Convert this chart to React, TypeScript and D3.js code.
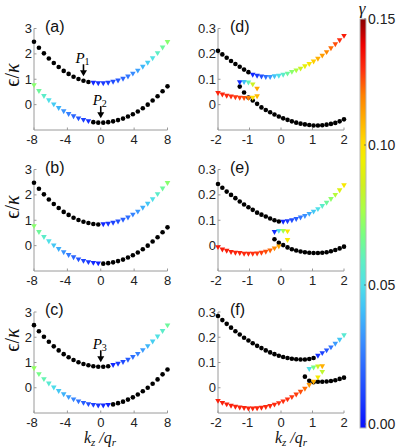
import React from 'react';
import * as d3 from 'd3';

// k_z grids (left panels: 28 points, right panels: 30 points)
const kzLeft = [-8, -7.41, -6.81, -6.22, -5.63, -5.04, -4.44, -3.85, -3.26, -2.67, -2.07, -1.48, -0.89, -0.3,
  0.3, 0.89, 1.48, 2.07, 2.67, 3.26, 3.85, 4.44, 5.04, 5.63, 6.22, 6.81, 7.41, 8];
const kzRight = [-2, -1.862, -1.724, -1.586, -1.448, -1.31, -1.172, -1.034, -0.897, -0.759, -0.621, -0.483, -0.345,
  -0.207, -0.069, 0.069, 0.207, 0.345, 0.483, 0.621, 0.759, 0.897, 1.034, 1.172, 1.31, 1.448, 1.586, 1.724, 1.862, 2];

// left column bands (same dispersion in a, b, c)
const leftUpper = [2.48, 2.24, 2.02, 1.82, 1.64, 1.48, 1.33, 1.21, 1.1, 1.01, 0.94, 0.89, 0.85, 0.83,
  0.83, 0.85, 0.89, 0.94, 1.01, 1.1, 1.21, 1.33, 1.48, 1.64, 1.82, 2.02, 2.24, 2.46];
const leftLower = [0.76, 0.53, 0.33, 0.16, 0, -0.14, -0.27, -0.38, -0.47, -0.55, -0.61, -0.66, -0.69, -0.71,
  -0.71, -0.69, -0.66, -0.61, -0.55, -0.47, -0.38, -0.27, -0.14, 0, 0.16, 0.33, 0.53, 0.72];

// gamma per point, 0 = real (black dot)
const aUpperG = [0, 0, 0, 0, 0, 0, 0, 0, 0, 0, 0, 0,
  0.004, 0.006, 0.008, 0.01, 0.013, 0.016, 0.02, 0.024, 0.029, 0.034, 0.039, 0.045, 0.051, 0.058, 0.064, 0.071];
const aLowerG = [0.071, 0.064, 0.057, 0.05, 0.044, 0.038, 0.031, 0.026, 0.02, 0.015, 0.01, 0.006,
  0, 0, 0, 0, 0, 0, 0, 0, 0, 0, 0, 0, 0, 0, 0, 0];
const bUpperG = [0, 0, 0, 0, 0, 0, 0, 0, 0, 0, 0, 0, 0, 0,
  0.004, 0.007, 0.01, 0.014, 0.018, 0.022, 0.027, 0.032, 0.037, 0.043, 0.05, 0.057, 0.064, 0.071];
const bLowerG = [0.071, 0.064, 0.057, 0.05, 0.043, 0.037, 0.031, 0.025, 0.02, 0.015, 0.011, 0.008, 0.005, 0.003,
  0, 0, 0, 0, 0, 0, 0, 0, 0, 0, 0, 0, 0, 0];
const cUpperG = [0, 0, 0, 0, 0, 0, 0, 0, 0, 0, 0, 0, 0, 0, 0, 0,
  0.004, 0.008, 0.012, 0.017, 0.022, 0.027, 0.033, 0.039, 0.045, 0.051, 0.057, 0.064];
const cLowerG = [0.073, 0.067, 0.061, 0.055, 0.049, 0.043, 0.038, 0.033, 0.028, 0.023, 0.018, 0.014, 0.01, 0.007, 0.005, 0.003,
  0, 0, 0, 0, 0, 0, 0, 0, 0, 0, 0, 0];

// (d)
const dUpper = [0.212, 0.198, 0.185, 0.172, 0.16, 0.149, 0.138, 0.128,
  0.117, 0.113, 0.11, 0.108, 0.108, 0.111, 0.113, 0.117, 0.121, 0.128, 0.134, 0.141, 0.15, 0.159, 0.169, 0.18,
  0.192, 0.206, 0.221, 0.237, 0.253, 0.27];
const dUpperG = [0, 0, 0, 0, 0, 0, 0, 0,
  0.004, 0.008, 0.014, 0.022, 0.032, 0.042, 0.05, 0.057, 0.064, 0.071, 0.078, 0.085, 0.092, 0.098, 0.104, 0.11,
  0.114, 0.118, 0.122, 0.126, 0.13, 0.134];
const dLower = [0.045, 0.039, 0.034, 0.031, 0.028, 0.026, 0.025, 0.025, 0.026,
  0.003, -0.011, -0.021, -0.03, -0.039, -0.047, -0.054, -0.06, -0.066, -0.071, -0.075, -0.078, -0.08, -0.082,
  -0.082, -0.081, -0.079, -0.076, -0.072, -0.066, -0.058];
const dLowerG = [0.132, 0.132, 0.131, 0.13, 0.129, 0.128, 0.126, 0.12, 0.1,
  0, 0, 0, 0, 0, 0, 0, 0, 0, 0, 0, 0, 0, 0, 0, 0, 0, 0, 0, 0, 0];
const dLoopDots = [[-1.31, 0.071], [-1.172, 0.048], [-1.034, 0.028], [-0.897, 0.016]];
const dLoopTris = [[-1.31, 0.087, 0.006], [-1.172, 0.088, 0.04], [-1.034, 0.086, 0.06], [-0.897, 0.079, 0.085],
  [-0.759, 0.062, 0.112], [-0.759, 0.032, 0.108]];

// (e)
const eUpper = [0.243, 0.228, 0.213, 0.2, 0.187, 0.174, 0.162, 0.151, 0.141, 0.13, 0.122, 0.115, 0.107, 0.1, 0.095,
  0.093, 0.095, 0.099, 0.104, 0.11, 0.116, 0.124, 0.133, 0.143, 0.155, 0.168, 0.183, 0.199, 0.217, 0.237];
const eUpperG = [0, 0, 0, 0, 0, 0, 0, 0, 0, 0, 0, 0, 0, 0, 0,
  0.004, 0.008, 0.013, 0.018, 0.024, 0.03, 0.036, 0.043, 0.05, 0.057, 0.064, 0.072, 0.08, 0.089, 0.097];
const eLower = [-0.007, -0.016, -0.021, -0.026, -0.029, -0.03, -0.033, -0.033, -0.033, -0.032, -0.029, -0.025,
  -0.02, -0.012, -0.004,
  0.002, -0.007, -0.014, -0.019, -0.023, -0.026, -0.028, -0.029, -0.029, -0.028, -0.026, -0.022, -0.017, -0.011, -0.004];
const eLowerG = [0.134, 0.134, 0.133, 0.133, 0.132, 0.132, 0.131, 0.131, 0.13, 0.129, 0.128, 0.126, 0.123, 0.118, 0.112,
  0, 0, 0, 0, 0, 0, 0, 0, 0, 0, 0, 0, 0, 0, 0];
const eLoopDots = [[-0.207, 0.025], [-0.069, 0.011]];
const eLoopTris = [[-0.207, 0.053, 0.006], [-0.069, 0.057, 0.05], [0.069, 0.057, 0.075], [0.207, 0.055, 0.098],
  [0.207, 0.021, 0.097]];

// (f)
const fUpper = [0.284, 0.268, 0.253, 0.238, 0.224, 0.211, 0.198, 0.187, 0.176, 0.166, 0.157, 0.148, 0.14, 0.133,
  0.127, 0.122, 0.118, 0.115, 0.113, 0.112, 0.112, 0.114, 0.118,
  0.126, 0.136, 0.147, 0.159, 0.173, 0.189, 0.207];
const fUpperG = [0, 0, 0, 0, 0, 0, 0, 0, 0, 0, 0, 0, 0, 0, 0, 0, 0, 0, 0, 0, 0, 0, 0,
  0.006, 0.01, 0.016, 0.024, 0.033, 0.043, 0.055];
const fLower = [-0.053, -0.061, -0.067, -0.072, -0.076, -0.079, -0.081, -0.083, -0.083, -0.082, -0.08, -0.077,
  -0.073, -0.068, -0.062, -0.055, -0.047, -0.038, -0.028, -0.017, -0.005, 0.01, 0.023,
  0.024, 0.024, 0.025, 0.027, 0.03, 0.035, 0.04];
const fLowerG = [0.133, 0.133, 0.133, 0.133, 0.132, 0.132, 0.132, 0.132, 0.132, 0.132, 0.132, 0.131, 0.131, 0.131,
  0.13, 0.13, 0.13, 0.129, 0.128, 0.126, 0.122, 0.115, 0.11,
  0, 0, 0, 0, 0, 0, 0];
const fLoopDots = [[0.759, 0.044], [0.897, 0.028], [1.034, 0.022]];
const fLoopTris = [[0.897, 0.073, 0.05], [1.034, 0.079, 0.068], [1.172, 0.083, 0.085], [1.31, 0.084, 0.11],
  [1.31, 0.062, 0.082], [1.172, 0.04, 0.097]];

// ticks
const leftXTicks = [-8, -4, 0, 4, 8];
const leftYTicks = [0, 1, 2, 3];
const rightXTicks = [-2, -1, 0, 1, 2];
const rightYTicks = [0, 0.1, 0.2, 0.3];
const cbTicks = [0, 0.05, 0.1, 0.15];
const cbTickLabels = ['0.00', '0.05', '0.10', '0.15'];

// markers with arrows: [panel, kz, eps, subscript]
const arrowMarks: [string, number, number, string][] = [['a', -2.07, 0.94, '1'], ['a', 0, -0.71, '2'], ['c', 0, 0.83, '3']];

// colormap (jet-like, starting at blue)
const cmapDomain = [0, 0.0086, 0.0194, 0.0302, 0.041, 0.05, 0.059, 0.068, 0.0768, 0.0857, 0.0946, 0.1, 0.1099,
  0.1198, 0.1298, 0.1397, 0.1476, 0.15];
const cmapRange = ['#0a14ff', '#1a3cff', '#2a64ff', '#3a90ff', '#40c0f8', '#50e0e8', '#60f0c0', '#78ff80',
  '#a8ff48', '#d0f020', '#f0f000', '#ffe000', '#ffb000', '#ff8000', '#ff3010', '#f00000', '#a00000', '#8a0000'];
const color = d3.scaleLinear<string>().domain(cmapDomain).range(cmapRange).interpolate(d3.interpolateRgb).clamp(true);

const SANS = "'Liberation Sans', Arial, sans-serif";
const SERIF = "'Liberation Serif', 'DejaVu Serif', 'Times New Roman', serif";
const AXIS = '#9a9a9a';

const rows = [{ top: 28.5, bottom: 130 }, { top: 169.5, bottom: 271 }, { top: 312, bottom: 413 }];
const cols = [{ x0: 34, x1: 167.5 }, { x0: 218, x1: 344 }];
const yLabelY = [75, 207, 340];

type Panel = {
  id: string; col: number; row: number; kz: number[];
  upper: number[]; upperG: number[]; lower: number[]; lowerG: number[];
  loopDots: number[][]; loopTris: number[][];
};

const panels: Panel[] = [
  { id: 'a', col: 0, row: 0, kz: kzLeft, upper: leftUpper, upperG: aUpperG, lower: leftLower, lowerG: aLowerG, loopDots: [], loopTris: [] },
  { id: 'b', col: 0, row: 1, kz: kzLeft, upper: leftUpper, upperG: bUpperG, lower: leftLower, lowerG: bLowerG, loopDots: [], loopTris: [] },
  { id: 'c', col: 0, row: 2, kz: kzLeft, upper: leftUpper, upperG: cUpperG, lower: leftLower, lowerG: cLowerG, loopDots: [], loopTris: [] },
  { id: 'd', col: 1, row: 0, kz: kzRight, upper: dUpper, upperG: dUpperG, lower: dLower, lowerG: dLowerG, loopDots: dLoopDots, loopTris: dLoopTris },
  { id: 'e', col: 1, row: 1, kz: kzRight, upper: eUpper, upperG: eUpperG, lower: eLower, lowerG: eLowerG, loopDots: eLoopDots, loopTris: eLoopTris },
  { id: 'f', col: 1, row: 2, kz: kzRight, upper: fUpper, upperG: fUpperG, lower: fLower, lowerG: fLowerG, loopDots: fLoopDots, loopTris: fLoopTris },
];

const tri = (x: number, y: number) => `M${x - 2.8},${y - 2.2}L${x + 2.8},${y - 2.2}L${x},${y + 2.7}Z`;

function PanelView({ p }: { p: Panel }) {
  const left = p.col === 0;
  const { top, bottom } = rows[p.row];
  const { x0, x1 } = cols[p.col];
  const x = d3.scaleLinear().domain(left ? [-8, 8] : [-2, 2]).range([x0, x1]);
  const y = d3.scaleLinear().domain(left ? [-1, 3] : [-0.1, 0.3]).range([bottom, top]);
  const xTicks = left ? leftXTicks : rightXTicks;
  const yTicks = left ? leftYTicks : rightYTicks;

  const dots: [number, number][] = [];
  const tris: [number, number, number][] = [];
  [[p.upper, p.upperG], [p.lower, p.lowerG]].forEach(([eps, g]) => {
    eps.forEach((v, i) => {
      if (g[i] > 0) tris.push([p.kz[i], v, g[i]]);
      else dots.push([p.kz[i], v]);
    });
  });
  p.loopDots.forEach(d => dots.push([d[0], d[1]]));
  p.loopTris.forEach(d => tris.push([d[0], d[1], d[2]]));

  const arrows = arrowMarks.filter(m => m[0] === p.id);

  return (
    <g>
      <line x1={x0} x2={x0} y1={top} y2={bottom} stroke={AXIS} strokeWidth={1} />
      <line x1={x0} x2={x1} y1={bottom} y2={bottom} stroke={AXIS} strokeWidth={1} />
      {xTicks.map(t => (
        <g key={'x' + t}>
          <line x1={x(t)} x2={x(t)} y1={bottom} y2={bottom - 2.5} stroke={AXIS} />
          <text x={x(t) - (t < 0 ? 2 : 0)} y={bottom + 14} textAnchor="middle" fontFamily={SANS} fontSize={13} fill="#222">{t}</text>
        </g>
      ))}
      {yTicks.map(t => (
        <g key={'y' + t}>
          <line x1={x0} x2={x0 + 2.5} y1={y(t)} y2={y(t)} stroke={AXIS} />
          <text x={x0 - 2} y={y(t) + 4.5} textAnchor="end" fontFamily={SANS} fontSize={13} fill="#222">{t}</text>
        </g>
      ))}
      <text x={left ? 45 : 230} y={top + 3} fontFamily={SANS} fontSize={16} fill="#111">({p.id})</text>
      {dots.map((d, i) => (
        <circle key={'d' + i} cx={x(d[0])} cy={y(d[1])} r={2.3} fill="#000" />
      ))}
      {tris.map((d, i) => (
        <path key={'t' + i} d={tri(x(d[0]), y(d[1]))} fill={color(d[2])} />
      ))}
      {arrows.map((m, i) => {
        const ax = x(m[1]);
        const tip = y(m[2]) - 4.5;
        const start = tip - 12;
        return (
          <g key={'ar' + i}>
            <line x1={ax} x2={ax} y1={start} y2={tip - 5} stroke="#000" strokeWidth={1.6} />
            <path d={`M${ax - 3.5},${tip - 6}L${ax + 3.5},${tip - 6}L${ax},${tip}Z`} fill="#000" />
            <text x={ax - 1} y={start - 1} textAnchor="middle" fontFamily={SERIF} fontSize={15} fill="#000">
              <tspan fontStyle="italic">P</tspan>
              <tspan fontSize={10} dy={2}>{m[3]}</tspan>
            </text>
          </g>
        );
      })}
    </g>
  );
}

export default function App() {
  const cbTop = 19;
  const cbBottom = 428;
  const cbX = 360;
  const cbW = 6;
  const cbY = d3.scaleLinear().domain(cbTicks).range([424, 285, 145, 19]);
  const stops = cmapDomain.map(g => ({ off: (cbBottom - cbY(g)) / (cbBottom - cbTop), c: color(g) }));

  return (
    <svg width={399} height={448} style={{ position: 'absolute', left: 0, top: 0, background: '#fff' }}>
      <defs>
        <linearGradient id="cb" gradientUnits="userSpaceOnUse" x1={0} x2={0} y1={cbBottom} y2={cbTop}>
          <stop offset={0} stopColor={color(0)} />
          {stops.map((s, i) => (
            <stop key={i} offset={Math.max(0, Math.min(1, s.off))} stopColor={s.c} />
          ))}
        </linearGradient>
      </defs>
      {panels.map(p => <PanelView key={p.id} p={p} />)}

      {yLabelY.map((cy, i) => (
        <text key={'yl' + i} transform={`translate(19,${cy}) rotate(-90)`} textAnchor="middle" fontFamily={SERIF} fontSize={20} fill="#111">
          ϵ/<tspan fontStyle="italic">κ</tspan>
        </text>
      ))}
      {[100, 291].map((cx, i) => (
        <text key={'xl' + i} x={cx} y={443} textAnchor="middle" fontFamily={SERIF} fontStyle="italic" fontSize={16} fill="#111">
          <tspan>k</tspan>
          <tspan fontSize={11} dy={3}>z</tspan>
          <tspan dy={-3}> /</tspan>
          <tspan>q</tspan>
          <tspan fontSize={11} dy={3}>r</tspan>
        </text>
      ))}

      <rect x={cbX} y={cbTop} width={cbW} height={cbBottom - cbTop} fill="url(#cb)" stroke="#b8b8b8" strokeWidth={1} />
      {cbTicks.map((t, i) => (
        <g key={'cb' + i}>
          <line x1={cbX + cbW - 2} x2={cbX + cbW} y1={cbY(t)} y2={cbY(t)} stroke="#555" strokeWidth={0.8} />
          <text x={368} y={cbY(t) + 5} fontFamily={SANS} fontSize={14} fill="#222">{cbTickLabels[i]}</text>
        </g>
      ))}
      <text x={362} y={14} textAnchor="middle" fontFamily={SERIF} fontStyle="italic" fontSize={17} fill="#111">γ</text>
    </svg>
  );
}
